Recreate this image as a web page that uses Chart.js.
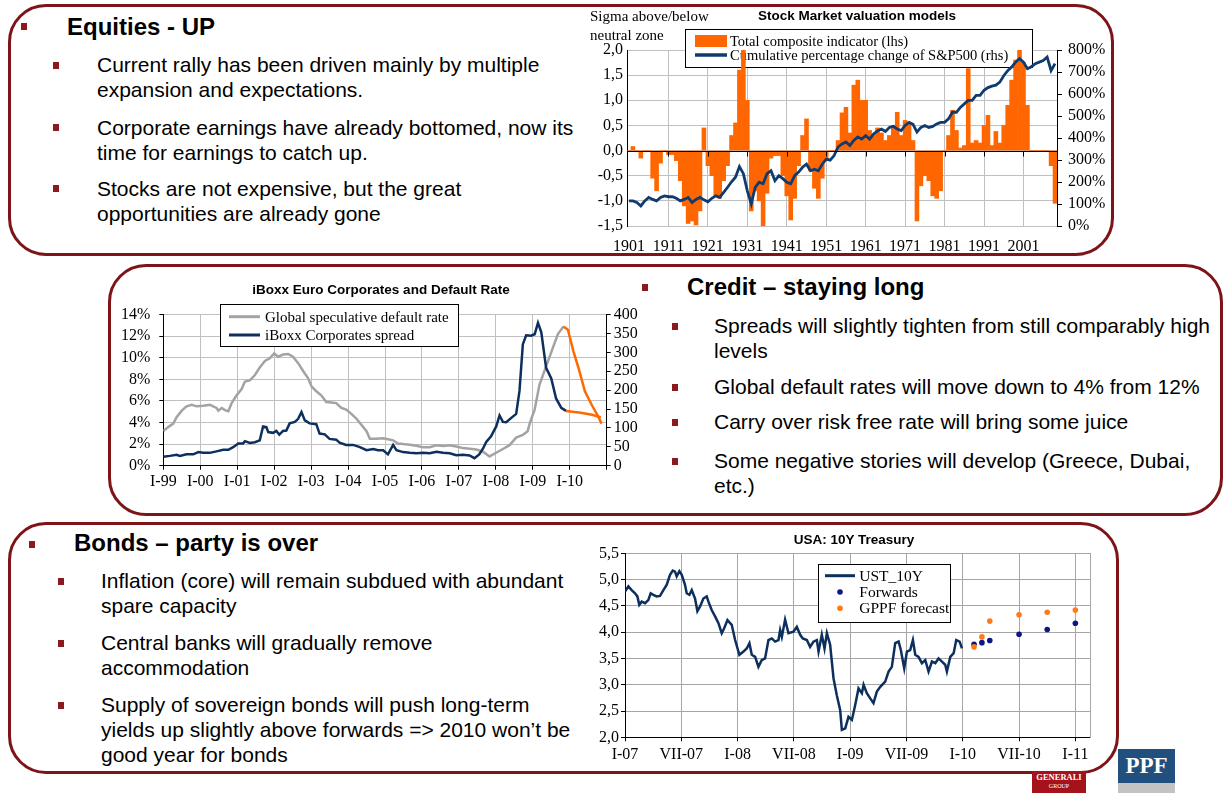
<!DOCTYPE html>
<html>
<head>
<meta charset="utf-8">
<script src="https://cdn.jsdelivr.net/npm/chart.js@4.4.0/dist/chart.umd.min.js"></script>
<style>
html,body{margin:0;padding:0;background:#fff;width:1231px;height:794px;overflow:hidden;}
.box{position:absolute;border:3px solid #7d1418;border-radius:38px;box-sizing:border-box;}
.txt{position:absolute;font-family:"Liberation Sans",Arial,sans-serif;font-size:21px;color:#000;white-space:nowrap;line-height:25px;}
.h{font-weight:bold;font-size:24px;line-height:28px;}
.bul{position:absolute;width:6px;height:7px;background:#8b1a1f;}
.ct{position:absolute;font-family:"Liberation Sans",Arial,sans-serif;font-weight:bold;font-size:13.5px;line-height:16px;white-space:nowrap;transform:translateX(-50%);color:#000;}
.st{position:absolute;font-family:"Liberation Serif","Times New Roman",serif;font-size:15px;line-height:18px;white-space:nowrap;color:#000;}
.chart{position:absolute;}
.logo-g{position:absolute;left:1032px;top:771px;width:54px;height:22px;background:#a6121c;color:#fff;font-family:"Liberation Serif",serif;text-align:center;overflow:hidden;}
.logo-p{position:absolute;left:1118px;top:749px;width:57px;height:34px;background:#22507e;color:#fff;font-family:"Liberation Serif",serif;font-weight:bold;font-size:23px;line-height:34px;text-align:center;}
.logo-p2{position:absolute;left:1118px;top:783px;width:57px;height:10px;background:#c3c3c3;}
</style>
</head>
<body>
<div class="box" style="left:8px;top:4px;width:1106px;height:252px;"></div>
<div class="box" style="left:108px;top:264px;width:1115px;height:252px;"></div>
<div class="box" style="left:8px;top:522px;width:1111px;height:252px;"></div>

<div class="chart" style="left:580px;top:0px;width:530px;height:256px;"><canvas id="c1"></canvas></div>
<div class="chart" style="left:118px;top:296px;width:522px;height:200px;"><canvas id="c2"></canvas></div>
<div class="chart" style="left:580px;top:540px;width:520px;height:230px;"><canvas id="c3"></canvas></div>

<div class="ct" style="left:857px;top:8px;">Stock Market valuation models</div>
<div class="st" style="left:590px;top:7px;">Sigma above/below</div>
<div class="st" style="left:590px;top:26px;">neutral zone</div>
<div class="ct" style="left:381px;top:282px;">iBoxx Euro Corporates and Default Rate</div>
<div class="ct" style="left:854px;top:532px;">USA: 10Y Treasury</div>

<!-- Box 1 -->
<div class="bul" style="left:21px;top:23px;"></div>
<div class="txt h" style="left:67px;top:13px;">Equities - UP</div>
<div class="bul" style="left:53px;top:62px;"></div>
<div class="txt" style="left:97px;top:52px;">Current rally has been driven mainly by multiple<br>expansion and expectations.</div>
<div class="bul" style="left:53px;top:124px;"></div>
<div class="txt" style="left:97px;top:115px;">Corporate earnings have already bottomed, now its<br>time for earnings to catch up.</div>
<div class="bul" style="left:53px;top:185px;"></div>
<div class="txt" style="left:97px;top:176px;">Stocks are not expensive, but the great<br>opportunities are already gone</div>

<!-- Box 2 -->
<div class="bul" style="left:642px;top:284px;"></div>
<div class="txt h" style="left:687px;top:273px;">Credit – staying long</div>
<div class="bul" style="left:672px;top:323px;"></div>
<div class="txt" style="left:714px;top:313px;">Spreads will slightly tighten from still comparably high<br>levels</div>
<div class="bul" style="left:672px;top:384px;"></div>
<div class="txt" style="left:714px;top:374px;">Global default rates will move down to 4% from 12%</div>
<div class="bul" style="left:672px;top:419px;"></div>
<div class="txt" style="left:714px;top:409px;">Carry over risk free rate will bring some juice</div>
<div class="bul" style="left:672px;top:458px;"></div>
<div class="txt" style="left:714px;top:448px;">Some negative stories will develop (Greece, Dubai,<br>etc.)</div>

<!-- Box 3 -->
<div class="bul" style="left:29px;top:541px;"></div>
<div class="txt h" style="left:74px;top:529px;">Bonds – party is over</div>
<div class="bul" style="left:58px;top:578px;"></div>
<div class="txt" style="left:101px;top:568px;">Inflation (core) will remain subdued with abundant<br>spare capacity</div>
<div class="bul" style="left:58px;top:640px;"></div>
<div class="txt" style="left:101px;top:630px;">Central banks will gradually remove<br>accommodation</div>
<div class="bul" style="left:58px;top:702px;"></div>
<div class="txt" style="left:101px;top:692px;">Supply of sovereign bonds will push long-term<br>yields up slightly above forwards =&gt; 2010 won’t be<br>good year for bonds</div>

<div class="logo-g"><div style="font-size:8.5px;font-weight:bold;line-height:12px;">GENERALI</div><div style="font-size:6px;line-height:7px;">GROUP</div></div>
<div class="logo-p">PPF</div>
<div class="logo-p2"></div>

<script>
// ---------- Chart 1: Stock Market valuation models ----------
const eqYears = ['1901','1902','1903','1904','1905','1906','1907','1908','1909','1910',
'1911','1912','1913','1914','1915','1916','1917','1918','1919','1920',
'1921','1922','1923','1924','1925','1926','1927','1928','1929','1930',
'1931','1932','1933','1934','1935','1936','1937','1938','1939','1940',
'1941','1942','1943','1944','1945','1946','1947','1948','1949','1950',
'1951','1952','1953','1954','1955','1956','1957','1958','1959','1960',
'1961','1962','1963','1964','1965','1966','1967','1968','1969','1970',
'1971','1972','1973','1974','1975','1976','1977','1978','1979','1980',
'1981','1982','1983','1984','1985','1986','1987','1988','1989','1990',
'1991','1992','1993','1994','1995','1996','1997','1998','1999','2000',
'2001','2002','2003','2004','2005','2006','2007','2008','2009'];
const eqTickLabels = ['1901','1911','1921','1931','1941','1951','1961','1971','1981','1991','2001'];
const eqComposite = [0,0.08,0,-0.15,0,0,-0.55,-0.8,-0.25,0,
-0.08,-0.08,-0.2,-0.6,-1.1,-1.45,-1.4,-1.48,-1.2,0.45,
-0.3,-0.5,-0.9,-0.95,-0.6,-0.3,0.3,0.55,1.6,2.0,
1.0,-1.2,-0.8,-1.0,-1.55,-0.85,-0.15,-0.1,-0.1,-0.5,
-0.9,-1.38,-0.95,-0.3,0.3,0.63,-0.4,-0.75,-0.95,-0.55,
-0.2,0,0,0.2,0.75,0.86,0.35,1.3,1.4,1.0,
1.0,0.4,0.3,0.45,0.35,0.2,0.3,0.5,0.76,0.3,
0.6,0.55,0.2,-1.4,-0.7,-0.5,-0.6,-0.9,-0.95,-0.8,
0,0.3,0.8,0.4,0.05,0.1,1.63,0.15,0.2,0.15,
0.5,0.7,0.1,0.38,0.15,0.5,0.9,1.4,1.8,2.0,
1.75,0.9,0,0,0,0,0,-0.3,-1.05];
const eqSP500 = [114,114,107,91,114,130,121,114,130,137,
133,133,126,114,121,130,107,121,130,119,
110,126,137,130,153,176,201,222,270,238,
160,101,176,199,192,238,251,206,229,215,
199,192,229,245,267,281,251,258,251,281,
304,299,320,359,373,382,366,389,405,395,
411,395,418,432,441,430,448,453,441,434,
457,471,462,427,448,457,448,453,464,471,
471,487,517,517,539,555,571,571,594,594,
617,629,636,640,654,683,706,722,745,761,
745,715,724,738,745,752,768,706,738];

// ---------- Chart 2: iBoxx Euro Corporates and Default Rate ----------
const ibTickLabels = ['I-99','I-00','I-01','I-02','I-03','I-04','I-05','I-06','I-07','I-08','I-09','I-10'];
const ibDefaultDates = [1999.00,1999.14,1999.27,1999.36,1999.50,1999.63,1999.77,1999.90,2000.08,2000.26,2000.35,2000.44,2000.49,2000.58,2000.67,2000.76,2000.85,2000.98,2001.12,2001.21,2001.34,2001.48,2001.61,2001.75,2001.88,2002.00,2002.11,2002.24,2002.38,2002.51,2002.65,2002.78,2002.92,2003.01,2003.14,2003.28,2003.41,2003.55,2003.68,2003.82,2003.95,2004.09,2004.23,2004.36,2004.50,2004.59,2004.77,2004.95,2005.08,2005.22,2005.35,2005.49,2005.67,2005.85,2006.03,2006.21,2006.39,2006.57,2006.75,2006.93,2007.11,2007.29,2007.47,2007.65,2007.83,2008.01,2008.19,2008.37,2008.55,2008.73,2008.86,2008.93,2009.05,2009.18,2009.36,2009.54,2009.68,2009.83];
const ibDefaultRate = [3.2,3.6,3.9,4.5,5.1,5.5,5.65,5.5,5.55,5.65,5.5,5.35,5.1,5.35,5.15,5.05,5.8,6.5,7.1,7.8,7.9,8.4,9.1,9.7,9.95,10.4,10.1,10.3,10.35,10.1,9.5,8.8,8.1,7.35,6.9,6.5,5.9,5.85,5.8,5.35,5.2,4.8,4.35,3.8,3.2,2.5,2.5,2.55,2.45,2.35,2.05,2.0,1.95,1.85,1.7,1.72,1.9,1.83,1.9,1.78,1.63,1.57,1.5,1.3,0.86,1.2,1.55,1.9,2.6,2.85,3.2,4.05,5.2,7.5,9.2,10.9,12.2,12.9];
const ibSpreadDates = [1999.00,1999.18,1999.36,1999.45,1999.63,1999.81,1999.95,2000.08,2000.26,2000.44,2000.62,2000.76,2000.89,2001.03,2001.16,2001.21,2001.34,2001.48,2001.61,2001.70,2001.79,2001.84,2001.97,2002.06,2002.14,2002.24,2002.33,2002.42,2002.56,2002.65,2002.74,2002.83,2002.96,2003.14,2003.23,2003.37,2003.50,2003.68,2003.77,2003.95,2004.14,2004.32,2004.50,2004.68,2004.81,2004.95,2005.08,2005.22,2005.31,2005.49,2005.67,2005.85,2006.03,2006.21,2006.39,2006.57,2006.75,2006.93,2007.11,2007.29,2007.42,2007.55,2007.65,2007.74,2007.87,2008.01,2008.10,2008.19,2008.28,2008.41,2008.55,2008.64,2008.73,2008.82,2008.95,2009.05,2009.14,2009.23,2009.36,2009.50,2009.63,2009.77,2009.90];
const ibSpread = [24,26,29,26,30,30,36,34,34,38,42,42,49,59,59,65,60,62,67,104,102,89,87,92,82,92,93,112,116,124,142,120,112,110,85,83,71,69,61,55,55,49,41,44,41,41,30,55,41,36,34,33,34,33,37,34,33,28,29,27,20,30,45,63,78,104,133,116,115,126,137,198,321,345,344,348,378,353,259,231,178,153,145];
const ibDefaultFcDates = [2009.83,2009.95,2010.10,2010.25,2010.41,2010.60,2010.78,2010.86];
const ibDefaultFc = [12.9,12.6,10.6,8.9,6.9,5.6,4.5,3.9];
const ibSpreadFcDates = [2009.90,2010.30,2010.60,2010.84];
const ibSpreadFc = [145,140,135,128];

// ---------- Chart 3: USA 10Y Treasury ----------
const ustTickLabels = ['I-07','VII-07','I-08','VII-08','I-09','VII-09','I-10','VII-10','I-11'];
const ustDates = [2007.000,2007.030,2007.059,2007.089,2007.110,2007.127,2007.148,2007.178,2007.207,2007.228,2007.252,2007.281,2007.311,2007.341,2007.370,2007.400,2007.424,2007.444,2007.459,2007.483,2007.504,2007.533,2007.548,2007.572,2007.593,2007.622,2007.643,2007.667,2007.696,2007.726,2007.741,2007.770,2007.800,2007.830,2007.859,2007.880,2007.910,2007.948,2007.978,2008.016,2008.052,2008.081,2008.105,2008.126,2008.156,2008.185,2008.215,2008.244,2008.274,2008.304,2008.333,2008.363,2008.378,2008.393,2008.422,2008.452,2008.496,2008.526,2008.556,2008.579,2008.615,2008.644,2008.674,2008.704,2008.719,2008.748,2008.772,2008.793,2008.822,2008.852,2008.881,2008.911,2008.926,2008.956,2008.985,2009.015,2009.044,2009.074,2009.104,2009.119,2009.148,2009.178,2009.207,2009.237,2009.267,2009.311,2009.341,2009.370,2009.400,2009.430,2009.450,2009.480,2009.504,2009.533,2009.557,2009.578,2009.607,2009.637,2009.667,2009.696,2009.726,2009.756,2009.785,2009.815,2009.844,2009.859,2009.889,2009.919,2009.942,2009.972,2009.993];
const ustYield = [4.77,4.87,4.80,4.74,4.68,4.52,4.58,4.55,4.61,4.74,4.71,4.68,4.69,4.80,4.90,5.09,5.17,5.15,5.06,5.16,5.09,4.90,4.74,4.71,4.80,4.64,4.40,4.49,4.64,4.68,4.58,4.42,4.30,4.17,3.98,4.07,4.23,4.14,3.85,3.57,3.63,3.69,3.79,3.57,3.53,3.34,3.47,3.50,3.85,3.88,3.82,3.85,4.04,3.91,4.24,3.98,4.01,4.10,3.95,3.88,3.85,3.72,3.82,3.85,3.63,3.95,3.69,3.98,3.76,3.12,2.80,2.52,2.14,2.17,2.39,2.33,2.61,2.93,2.84,3.00,2.84,2.74,2.65,2.87,2.96,3.06,3.25,3.34,3.79,3.82,3.66,3.31,3.63,3.66,3.85,3.57,3.53,3.41,3.47,3.25,3.44,3.41,3.50,3.44,3.38,3.25,3.53,3.60,3.85,3.82,3.69];
const fcDates = [2010.10,2010.17,2010.24,2010.50,2010.75,2011.00];
const forwardsYield = [3.77,3.80,3.84,3.96,4.05,4.17];
const gppfYield = [3.72,3.91,4.21,4.33,4.38,4.42];

// ---------- helpers / plugins ----------
const SERIF = '"Liberation Serif","Times New Roman",serif';
Chart.defaults.font.family = SERIF;
Chart.defaults.color = '#000';
const pts = (xs, ys) => xs.map((x, i) => ({x: x, y: ys[i]}));

const boxLegend = {
  id: 'boxLegend',
  beforeDatasetsDraw(chart, args, o) {
    if (!o || !o.items) return;
    const c = chart.ctx;
    c.save();
    c.fillStyle = '#fff';
    c.fillRect(o.x, o.y, o.w, o.h);
    c.strokeStyle = '#000'; c.lineWidth = 1;
    c.strokeRect(Math.round(o.x) + 0.5, Math.round(o.y) + 0.5, Math.round(o.w), Math.round(o.h));
    c.font = o.font; c.textBaseline = 'middle';
    for (let i = 0; i < o.items.length; i++) {
      const it = o.items[i];
      const ds = chart.data.datasets[it.ds];
      const cy = o.y + o.first + i * o.rowH;
      if (it.kind === 'rect') {
        c.fillStyle = ds.backgroundColor; c.fillRect(o.sx, cy - o.rectH / 2, o.sw, o.rectH);
      } else if (it.kind === 'line') {
        c.strokeStyle = ds.borderColor; c.lineWidth = o.lineW;
        c.beginPath(); c.moveTo(o.sx, cy); c.lineTo(o.sx + o.sw, cy); c.stroke();
      } else {
        c.fillStyle = ds.pointBackgroundColor; c.beginPath();
        c.arc(o.sx + o.sw / 2, cy, o.dotR, 0, Math.PI * 2); c.fill();
      }
      c.fillStyle = '#000';
      c.fillText(ds.label, o.tx, cy + 1);
    }
    c.restore();
  }
};

const zeroAxis = {
  id: 'zeroAxis',
  afterDatasetsDraw(chart) {
    const {ctx, chartArea: a, scales} = chart;
    const y0 = Math.round(scales.y.getPixelForValue(0)) + 0.5;
    ctx.save(); ctx.strokeStyle = '#000'; ctx.lineWidth = 1;
    ctx.beginPath(); ctx.moveTo(a.left, y0); ctx.lineTo(a.right, y0);
    eqYears.forEach((lab, i) => {
      if (i > 0 && eqTickLabels.includes(lab)) {
        const px = Math.round(scales.x.getPixelForValue(i)) + 0.5;
        ctx.moveTo(px, y0); ctx.lineTo(px, y0 + 5);
      }
    });
    ctx.stroke(); ctx.restore();
  }
};

// ---------- Chart 1 ----------
new Chart(document.getElementById('c1'), {
  type: 'bar',
  data: {
    labels: eqYears,
    datasets: [
      {type: 'bar', label: 'Total composite indicator (lhs)', data: eqComposite, backgroundColor: '#ff6600',
       borderWidth: 0, barPercentage: 1, categoryPercentage: 1, yAxisID: 'y', order: 2},
      {type: 'line', label: 'Cumulative percentage change of S&P500 (rhs)', data: eqSP500, borderColor: '#0f3b6e',
       borderWidth: 2.8, pointRadius: 0, tension: 0, yAxisID: 'y1', order: 1}
    ]
  },
  options: {
    responsive: true, maintainAspectRatio: false, animation: false,
    layout: {padding: {top: 50, left: 0, right: 0, bottom: 0}},
    scales: {
      x: {
        offset: true,
        grid: {offset: false, drawTicks: false,
               color: c => (c.index > 0 && eqTickLabels.includes(eqYears[c.index])) ? '#c0c0c0' : 'rgba(0,0,0,0)'},
        border: {display: false},
        ticks: {autoSkip: false, maxRotation: 0, minRotation: 0, padding: 11, font: {size: 16},
                callback: (v, i) => eqTickLabels.includes(eqYears[i]) ? eqYears[i] : ''},
        afterFit: s => { s.height = 30; }
      },
      y: {
        position: 'left', min: -1.5, max: 2.0,
        ticks: {stepSize: 0.5, autoSkip: false, padding: 4, font: {size: 16}, callback: v => v.toFixed(1).replace('.', ',')},
        grid: {color: '#c0c0c0', drawTicks: false},
        border: {color: '#000'},
        afterFit: s => { s.width = 47; }
      },
      y1: {
        position: 'right', min: 0, max: 800,
        ticks: {stepSize: 100, autoSkip: false, padding: 6, font: {size: 16}, callback: v => v + '%'},
        grid: {drawOnChartArea: false, drawTicks: true, tickLength: 5, tickColor: '#000'},
        border: {color: '#000'},
        afterFit: s => { s.width = 53; }
      }
    },
    plugins: {
      legend: {display: false}, title: {display: false}, tooltip: {enabled: false},
      boxLegend: {x: 105, y: 29, w: 347, h: 38, first: 12, rowH: 14, sx: 115, sw: 32, rectH: 12, lineW: 3.5,
                  dotR: 3, tx: 150, font: '14.5px ' + SERIF,
                  items: [{ds: 0, kind: 'rect'}, {ds: 1, kind: 'line'}]}
    }
  },
  plugins: [boxLegend, zeroAxis]
});

// ---------- Chart 2 ----------
new Chart(document.getElementById('c2'), {
  type: 'line',
  data: {
    datasets: [
      {label: 'Global speculative default rate', data: pts(ibDefaultDates, ibDefaultRate), borderColor: '#a3a3a3',
       borderWidth: 2.5, pointRadius: 0, yAxisID: 'y', order: 3},
      {label: 'iBoxx Corporates spread', data: pts(ibSpreadDates, ibSpread), borderColor: '#0d2f5e',
       borderWidth: 2.5, pointRadius: 0, yAxisID: 'y1', order: 2},
      {label: 'Default rate forecast', data: pts(ibDefaultFcDates, ibDefaultFc), borderColor: '#ff6a00',
       borderWidth: 2.5, pointRadius: 0, yAxisID: 'y', order: 1},
      {label: 'Spread forecast', data: pts(ibSpreadFcDates, ibSpreadFc), borderColor: '#ff6a00',
       borderWidth: 2.5, pointRadius: 0, yAxisID: 'y1', order: 0}
    ]
  },
  options: {
    responsive: true, maintainAspectRatio: false, animation: false,
    layout: {padding: {top: 6.7, left: 0, right: 0, bottom: 0}},
    scales: {
      x: {
        type: 'linear', min: 1999, max: 2011,
        ticks: {stepSize: 1, autoSkip: false, padding: 2, maxRotation: 0, font: {size: 16},
                callback: v => ibTickLabels[Math.round(v - 1999)] || ''},
        grid: {color: '#c0c0c0', drawTicks: true, tickLength: 4, tickColor: '#000'},
        border: {color: '#000'},
        afterFit: s => { s.height = 30.3; }
      },
      y: {
        position: 'left', min: 0, max: 14,
        ticks: {stepSize: 2, autoSkip: false, padding: 9, font: {size: 16}, callback: v => v + '%'},
        grid: {color: '#c0c0c0', drawTicks: true, tickLength: 4, tickColor: '#000'},
        border: {color: '#000'},
        afterFit: s => { s.width = 45.3; }
      },
      y1: {
        position: 'right', min: 0, max: 400,
        ticks: {stepSize: 50, autoSkip: false, padding: 3, font: {size: 16}},
        grid: {drawOnChartArea: false, drawTicks: true, tickLength: 4, tickColor: '#000'},
        border: {color: '#000'},
        afterFit: s => { s.width = 33.3; }
      }
    },
    plugins: {
      legend: {display: false}, title: {display: false}, tooltip: {enabled: false},
      boxLegend: {x: 102, y: 8.3, w: 238.3, h: 41.7, first: 12.4, rowH: 18.3, sx: 111, sw: 31, rectH: 10, lineW: 3,
                  dotR: 3, tx: 147, font: '15px ' + SERIF,
                  items: [{ds: 0, kind: 'line'}, {ds: 1, kind: 'line'}]}
    }
  },
  plugins: [boxLegend]
});

// ---------- Chart 3 ----------
new Chart(document.getElementById('c3'), {
  type: 'line',
  data: {
    datasets: [
      {label: 'UST_10Y', data: pts(ustDates, ustYield), borderColor: '#0d2f5e', borderWidth: 2.5,
       pointRadius: 0, order: 2},
      {label: 'Forwards', data: pts(fcDates, forwardsYield), showLine: false, pointRadius: 2.8,
       pointBackgroundColor: '#0a1880', pointBorderWidth: 0, borderColor: '#0a1880', order: 1},
      {label: 'GPPF forecast', data: pts(fcDates, gppfYield), showLine: false, pointRadius: 2.8,
       pointBackgroundColor: '#ff7a1a', pointBorderWidth: 0, borderColor: '#ff7a1a', order: 0}
    ]
  },
  options: {
    responsive: true, maintainAspectRatio: false, animation: false,
    layout: {padding: {top: 13.3, left: 0, right: 0, bottom: 0}},
    scales: {
      x: {
        type: 'linear', min: 2007, max: 2011.13,
        ticks: {stepSize: 0.5, includeBounds: false, padding: 4, maxRotation: 0, autoSkip: false, font: {size: 16},
                callback: v => ustTickLabels[Math.round((v - 2007) * 2)] || ''},
        grid: {color: '#a6a6a6', drawTicks: true, tickLength: 4, tickColor: '#000'},
        border: {color: '#000'},
        afterFit: s => { s.height = 32.7; }
      },
      y: {
        position: 'left', min: 2.0, max: 5.5,
        ticks: {stepSize: 0.5, autoSkip: false, padding: 2, font: {size: 16}, callback: v => v.toFixed(1).replace('.', ',')},
        grid: {color: '#a6a6a6', drawTicks: true, tickLength: 4, tickColor: '#000'},
        border: {color: '#000'},
        afterFit: s => { s.width = 45; }
      },
      y1: {
        position: 'right', min: 0, max: 1, display: true,
        ticks: {display: false},
        grid: {drawOnChartArea: false, drawTicks: false},
        border: {color: '#a6a6a6'},
        afterFit: s => { s.width = 10; }
      }
    },
    plugins: {
      legend: {display: false}, title: {display: false}, tooltip: {enabled: false},
      boxLegend: {x: 238.3, y: 24.3, w: 131.7, h: 58, first: 11.4, rowH: 16.3, sx: 245, sw: 30, rectH: 10, lineW: 3,
                  dotR: 2.8, tx: 279.3, font: '15.5px ' + SERIF,
                  items: [{ds: 0, kind: 'line'}, {ds: 1, kind: 'dot'}, {ds: 2, kind: 'dot'}]}
    }
  },
  plugins: [boxLegend]
});
</script>
</body>
</html>
